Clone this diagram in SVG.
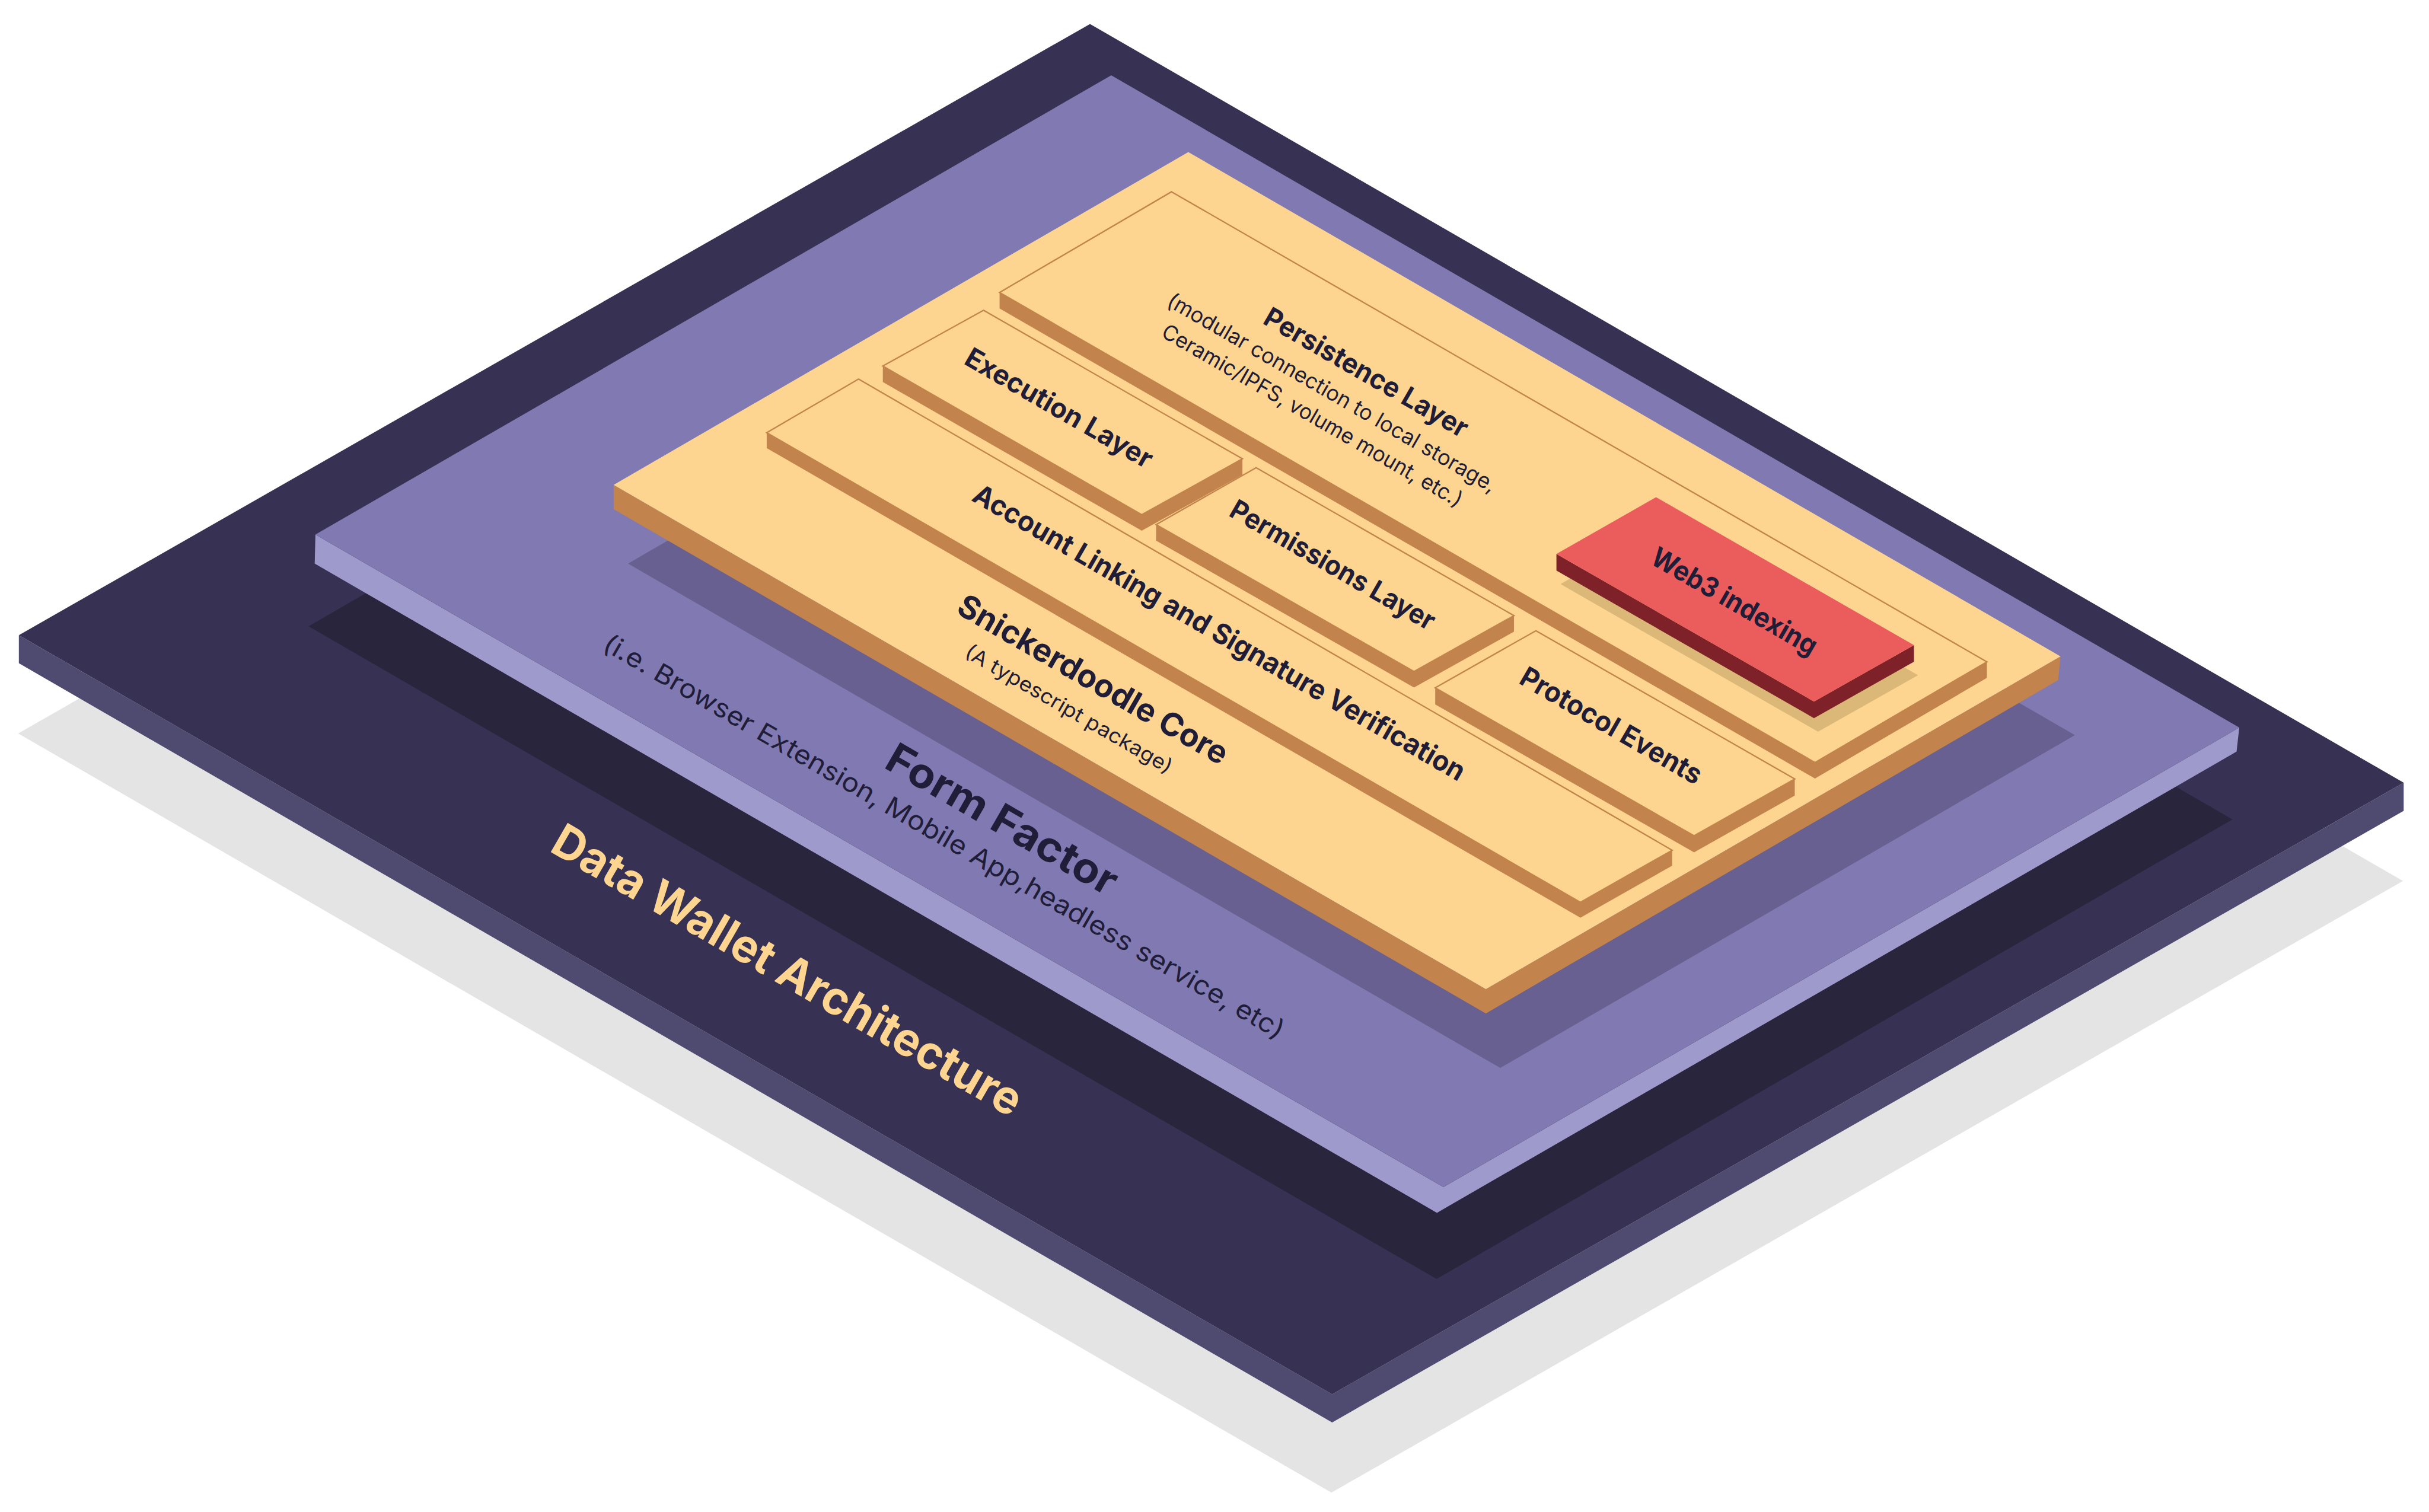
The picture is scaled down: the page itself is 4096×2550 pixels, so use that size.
<svg xmlns="http://www.w3.org/2000/svg" width="4096" height="2550" viewBox="0 0 4096 2550">
<style>
.gshadow{fill:#e4e4e4}
.base-top{fill:#373253}
.base-side{fill:#4e4a70}
.dshadow{fill:#29253d}
.pur-top{fill:#8079b2}
.pur-side{fill:#9e9acb}
.pshadow{fill:#676090}
.yel-top{fill:#fdd590}
.brown{fill:#c2844c}
.box-top{fill:#fdd590;stroke:#c2844c;stroke-width:2.3;stroke-linejoin:miter}
.red-top{fill:#eb5d5d}
.red-side{fill:#7f2128}
.tan{fill:#dbb778}
text{font-family:"Inter","Liberation Sans",sans-serif;fill:#1f1d38}
.t-title{font-weight:700}
.t-sub{font-weight:400}
.t-dw{font-weight:700;fill:#fdd590}
</style>
<rect width="4096" height="2550" fill="#ffffff"/>

<g id="data-wallet-architecture">
  <polygon class="gshadow" points="1836.9,206.1 4052.1,1485.8 2245.2,2517.2 30.6,1236.9"/>
  <polygon class="base-side" points="31.8,1071.2 2246.4,2351.5 4053.3,1320.1 4053.3,1367.5 2246.4,2398.9 31.8,1118.6"/>
  <polygon class="base-top" points="1838.1,40.4 4053.3,1320.1 2246.4,2351.5 31.8,1071.2"/>
  <polygon class="dshadow" points="1862.4,281.8 3764.6,1381.9 2422.5,2156.9 520.4,1056.2"/>
  <text class="t-dw" font-size="78" text-anchor="middle" textLength="901" lengthAdjust="spacingAndGlyphs" transform="translate(1314.6,1659.7) rotate(30)">Data Wallet Architecture</text>
</g>

<g id="form-factor">
  <polygon class="pur-side" points="531.9,901.4 2434,2002.1 3776.1,1227.1 3771.5,1267.6 2423.1,2045.4 530.7,950.5"/>
  <polygon class="pur-top" points="1873.9,127 3776.1,1227.1 2434,2002.1 531.9,901.4"/>
  <polygon class="pshadow" points="2028.1,389.2 3498.9,1239.8 2529.9,1801.1 1059.1,950.5"/>
  <text class="t-title" font-size="70" text-anchor="middle" textLength="438" lengthAdjust="spacingAndGlyphs" transform="translate(1678,1403) rotate(30)">Form Factor</text>
  <text class="t-sub" font-size="44" text-anchor="middle" textLength="1318" lengthAdjust="spacingAndGlyphs" transform="translate(1584.5,1424) rotate(30)">(i.e. Browser Extension, Mobile App,headless service, etc)</text>
</g>

<g id="snickerdoodle-core">
  <polygon class="brown" points="1034.8,817.7 2505.6,1668.3 3474.6,1107 3470.6,1146.9 2505.6,1709.3 1034.8,858.7"/>
  <polygon class="yel-top" points="2003.8,256.4 3474.6,1107 2505.6,1668.3 1034.8,817.7"/>
  <text class="t-title" font-size="54" text-anchor="middle" textLength="517" lengthAdjust="spacingAndGlyphs" transform="translate(1834,1162) rotate(30)">Snickerdoodle Core</text>
  <text class="t-sub" font-size="34" text-anchor="middle" textLength="398" lengthAdjust="spacingAndGlyphs" transform="translate(1796.5,1206) rotate(30)">(A typescript package)</text>
</g>

<g id="persistence-layer">
  <polygon class="brown" points="1685.6,493.2 3060.6,1286 3350.5,1116.2 3350.5,1143.2 3060.6,1313 1685.6,520.2"/>
  <polygon class="box-top" points="1975.5,323.4 3350.5,1116.2 3060.6,1286 1685.6,493.2"/>
  <text class="t-title" font-size="46" text-anchor="middle" textLength="389" lengthAdjust="spacingAndGlyphs" transform="translate(2296,642) rotate(30)">Persistence Layer</text>
  <text class="t-sub" font-size="36" text-anchor="middle" textLength="634" lengthAdjust="spacingAndGlyphs" transform="translate(2240,673) rotate(30)">(modular connection to local storage,</text>
  <text class="t-sub" font-size="36" text-anchor="middle" textLength="579" lengthAdjust="spacingAndGlyphs" transform="translate(2207,711.5) rotate(30)">Ceramic/IPFS, volume mount, etc.)</text>
</g>

<g id="execution-layer">
  <polygon class="brown" points="1488.7,617.3 1925.3,868 2095.1,773.8 2095.1,800.8 1925.3,895 1488.7,644.3"/>
  <polygon class="box-top" points="1658.5,523.2 2095.1,773.8 1925.3,868 1488.7,617.3"/>
  <text class="t-title" font-size="46" text-anchor="middle" textLength="357" lengthAdjust="spacingAndGlyphs" transform="translate(1778,702) rotate(30)">Execution Layer</text>
</g>

<g id="permissions-layer">
  <polygon class="brown" points="1949.5,884.7 2384.4,1132.4 2553,1038.3 2553,1065.3 2384.4,1159.4 1949.5,911.7"/>
  <polygon class="box-top" points="2118.2,788.8 2553,1038.3 2384.4,1132.4 1949.5,884.7"/>
  <text class="t-title" font-size="46" text-anchor="middle" textLength="391" lengthAdjust="spacingAndGlyphs" transform="translate(2239.5,966.7) rotate(30)">Permissions Layer</text>
</g>

<g id="web3-indexing">
  <polygon class="tan" points="2799.5,889.3 3234.4,1138.8 3065.8,1234 2631.5,985.1"/>
  <polygon class="red-side" points="2624.6,934.3 3058.9,1183.2 3227.5,1088 3227.5,1116 3058.9,1211.2 2624.6,962.3"/>
  <polygon class="red-top" points="2792.6,838.5 3227.5,1088 3058.9,1183.2 2624.6,934.3"/>
  <text class="t-title" font-size="46" text-anchor="middle" textLength="315" lengthAdjust="spacingAndGlyphs" transform="translate(2917,1028) rotate(30)">Web3 indexing</text>
</g>

<g id="account-linking">
  <polygon class="brown" points="1292.9,729.7 2665,1521.7 2819.8,1433.9 2819.8,1459.9 2665,1547.7 1292.9,755.7"/>
  <polygon class="box-top" points="1447.7,639.3 2819.8,1433.9 2665,1521.7 1292.9,729.7"/>
  <text class="t-title" font-size="47" text-anchor="middle" textLength="950" lengthAdjust="spacingAndGlyphs" transform="translate(2048,1081) rotate(30)">Account Linking and Signature Verification</text>
</g>

<g id="protocol-events">
  <polygon class="brown" points="2420.2,1159.9 2856.7,1409.6 3026.5,1313.7 3026.5,1341.7 2856.7,1437.6 2420.2,1187.9"/>
  <polygon class="box-top" points="2590,1063.7 3026.5,1313.7 2856.7,1409.6 2420.2,1159.9"/>
  <text class="t-title" font-size="47" text-anchor="middle" textLength="346" lengthAdjust="spacingAndGlyphs" transform="translate(2709,1238) rotate(30)">Protocol Events</text>
</g>

<g id="connectors"></g>
</svg>
